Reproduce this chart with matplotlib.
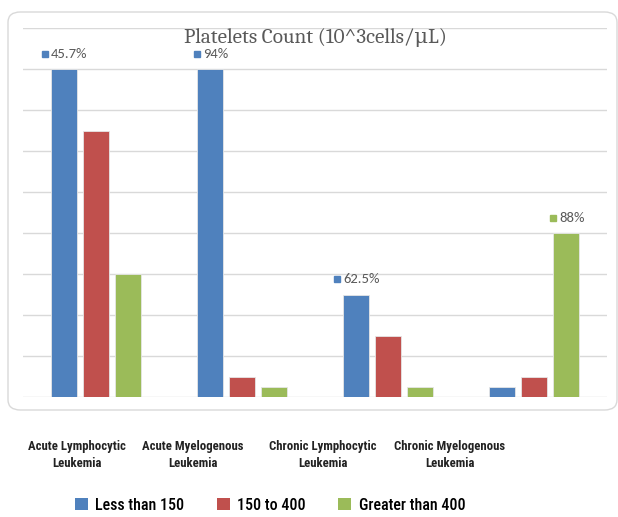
import numpy as np
import matplotlib.pyplot as plt
from matplotlib.patches import FancyBboxPatch, Patch
from matplotlib import font_manager

categories = ["Acute Lymphocytic\nLeukemia", "Acute Myelogenous\nLeukemia",
              "Chronic Lymphocytic\nLeukemia", "Chronic Myelogenous\nLeukemia"]
series = ["Less than 150", "150 to 400", "Greater than 400"]
less_150 = [8, 8, 2.5, 0.25]
mid_150_400 = [6.5, 0.5, 1.5, 0.5]
over_400 = [3, 0.25, 0.25, 4]
# data labels: (group, series index, text)
labels = [(0, 0, "45.7%"), (1, 0, "94%"), (2, 0, "62.5%"), (3, 2, "88%")]

colors = ["#4F81BD", "#C0504D", "#9BBB59"]
names = set(f.name for f in font_manager.fontManager.ttflist)


def pick(*cands):
    for c in cands:
        if c in names:
            return c
    return "DejaVu Sans"


narrow = pick("Arial Narrow", "Liberation Sans Narrow", "Roboto Condensed", "Archivo Narrow")
serif = pick("Caladea", "Cambria", "DejaVu Serif")
calibri = pick("Carlito", "Calibri", "Open Sans")

W, H = 618, 517
fig = plt.figure(figsize=(W / 100, H / 100), dpi=100)

# rounded frame around the chart
frame = FancyBboxPatch((8 / W, 1 - 410 / H), 609 / W, 398 / H,
                       boxstyle="round,pad=0,rounding_size=0.02",
                       transform=fig.transFigure, facecolor="none",
                       edgecolor="#d9d9d9", linewidth=1.0, zorder=-1)
fig.patches.append(frame)

ax = fig.add_axes([23 / W, 1 - 397 / H, 584 / W, 369 / H])
ax.set_facecolor("none")
ax.set_xlim(-0.5, 3.5)
ax.set_ylim(0, 9)
for s in ax.spines.values():
    s.set_visible(False)
ax.set_xticks([])
ax.set_yticks(np.arange(0, 10))
ax.tick_params(left=False, labelleft=False)
ax.yaxis.grid(True, color="#d9d9d9", linewidth=1.0)
ax.set_axisbelow(True)

x = np.arange(len(categories))
pitch = 0.221
width = 0.175
all_vals = [less_150, mid_150_400, over_400]
for i, vals in enumerate(all_vals):
    ax.bar(x + (i - 1) * pitch, vals, width=width, color=colors[i],
           edgecolor="#e6e6e6", linewidth=0.6, zorder=2)

# data labels with coloured square marker
fig.canvas.draw()
r = fig.canvas.get_renderer()
for g, si, txt in labels:
    bx = x[g] + (si - 1) * pitch
    by = all_vals[si][g]
    t = ax.annotate(txt, (bx, by), xytext=(4, 11), textcoords="offset points",
                    ha="center", va="center", fontsize=10.5, color="#595959",
                    family=calibri)
    bb = t.get_window_extent(r)
    sx, sy = ax.transData.inverted().transform((bb.x0 - 6, (bb.y0 + bb.y1) / 2))
    ax.plot([sx], [sy], marker="s", markersize=4.5, color=colors[si],
            linestyle="none", clip_on=False)

fig.text(315 / W, 1 - 38 / H, "Platelets Count (10^3cells/\u03bcL)",
         ha="center", va="center", fontsize=15.3, color="#595959",
         family=[serif, "DejaVu Serif"])

# category labels (offset from the bar groups as in the original)
cat_x = [77, 193, 323, 450]
for cx, c in zip(cat_x, categories):
    fig.text(cx / W, 1 - 455 / H, c, ha="center", va="center",
             fontsize=9.2, fontweight="bold", family=narrow,
             color="#222222", linespacing=1.35)

handles = [Patch(facecolor=c, edgecolor="none") for c in colors]
fig.legend(handles, series, loc="center", bbox_to_anchor=(270 / W, 1 - 505 / H),
           ncol=3, frameon=False, handlelength=0.85, handleheight=0.85,
           handletextpad=0.45, columnspacing=2.0,
           prop={"family": narrow, "size": 11.5, "weight": "medium"})

fig.savefig("out.png", dpi=100)
